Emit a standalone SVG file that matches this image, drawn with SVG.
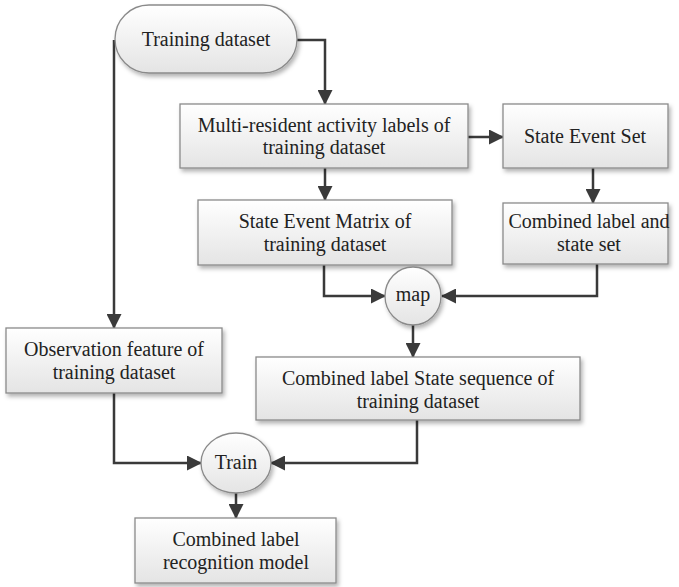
<svg xmlns="http://www.w3.org/2000/svg" width="679" height="587" viewBox="0 0 679 587">
<defs>
<linearGradient id="g" x1="0" y1="0" x2="0" y2="1">
<stop offset="0" stop-color="#ffffff"/>
<stop offset="1" stop-color="#e4e4e4"/>
</linearGradient>
<filter id="sh" x="-10%" y="-10%" width="125%" height="130%">
<feDropShadow dx="2" dy="3" stdDeviation="2" flood-color="#000" flood-opacity="0.3"/>
</filter>
<marker id="ah" markerWidth="15" markerHeight="15" refX="14" refY="7.5" orient="auto" markerUnits="userSpaceOnUse">
<path d="M0,0 L15,7.5 L0,15 Z" fill="#3a3a3a"/>
</marker>
</defs>
<style>
.n{fill:url(#g);stroke:#8a8a8a;stroke-width:1.3;filter:url(#sh)}
.t{font-family:"Liberation Serif","Times New Roman",serif;font-size:20px;fill:#222;text-anchor:middle}
.c{fill:none;stroke:#3a3a3a;stroke-width:2.5;marker-end:url(#ah)}
.l{fill:none;stroke:#3a3a3a;stroke-width:2.5}
</style>
<rect width="679" height="587" fill="#fff"/>
<g id="connectors">
<path class="c" d="M297,40 H325 V104"/>
<path class="l" d="M114,40 V200"/>
<path class="c" d="M114,200 V328"/>
<path class="c" d="M468,137 H503"/>
<path class="c" d="M325,168 V200"/>
<path class="c" d="M593,168 V203"/>
<path class="c" d="M324,265 V296 H385"/>
<path class="c" d="M597,264 V296 H442"/>
<path class="c" d="M413,325 V357"/>
<path class="c" d="M114,393 V463 H201"/>
<path class="c" d="M417,420 V463 H271"/>
<path class="c" d="M236,493 V518"/>
</g>
<g id="training">
<rect class="n" x="115" y="5" width="182" height="68" rx="34" ry="34"/>
<text class="t" x="206" y="46">Training dataset</text>
</g>
<g id="multi">
<rect class="n" x="180" y="104" width="288" height="64"/>
<text class="t" x="324" y="132">Multi-resident activity labels of</text>
<text class="t" x="324" y="154">training dataset</text>
</g>
<g id="ses">
<rect class="n" x="503" y="104" width="165" height="64"/>
<text class="t" x="585" y="143">State Event Set</text>
</g>
<g id="sem">
<rect class="n" x="198" y="200" width="254" height="65"/>
<text class="t" x="325" y="228">State Event Matrix of</text>
<text class="t" x="325" y="251">training dataset</text>
</g>
<g id="comb">
<rect class="n" x="503" y="203" width="165" height="61"/>
<text class="t" x="589" y="228">Combined label and</text>
<text class="t" x="589" y="251">state set</text>
</g>
<g id="map">
<ellipse class="n" cx="413" cy="296" rx="28" ry="29"/>
<text class="t" x="413" y="301">map</text>
</g>
<g id="obs">
<rect class="n" x="6" y="328" width="216" height="65"/>
<text class="t" x="114" y="356">Observation feature of</text>
<text class="t" x="114" y="379">training dataset</text>
</g>
<g id="clss">
<rect class="n" x="256" y="357" width="324" height="63"/>
<text class="t" x="418" y="385">Combined label State sequence of</text>
<text class="t" x="418" y="408">training dataset</text>
</g>
<g id="train">
<ellipse class="n" cx="236" cy="463" rx="35" ry="30"/>
<text class="t" x="236" y="469">Train</text>
</g>
<g id="model">
<rect class="n" x="135" y="518" width="201" height="65"/>
<text class="t" x="236" y="546">Combined label</text>
<text class="t" x="236" y="569">recognition model</text>
</g>
</svg>
